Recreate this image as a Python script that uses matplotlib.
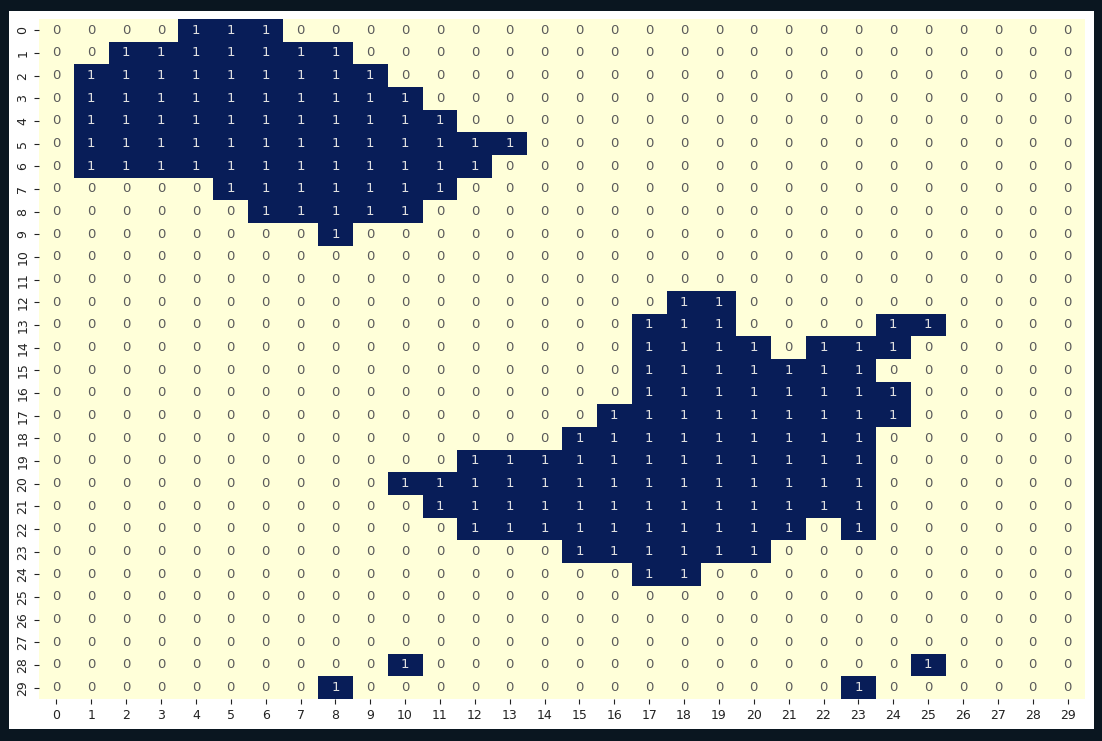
import numpy as np
import matplotlib
matplotlib.use("Agg")
import matplotlib.pyplot as plt
import seaborn as sns
from matplotlib.patches import Rectangle

# grid rows, one string per row (0 / 1 per column)
rows = [
    "000011100000000000000000000000",
    "001111111000000000000000000000",
    "011111111100000000000000000000",
    "011111111110000000000000000000",
    "011111111111000000000000000000",
    "011111111111110000000000000000",
    "011111111111100000000000000000",
    "000001111111000000000000000000",
    "000000111110000000000000000000",
    "000000001000000000000000000000",
    "000000000000000000000000000000",
    "000000000000000000000000000000",
    "000000000000000000110000000000",
    "000000000000000001110000110000",
    "000000000000000001111011100000",
    "000000000000000001111111000000",
    "000000000000000001111111100000",
    "000000000000000011111111100000",
    "000000000000000111111111000000",
    "000000000000111111111111000000",
    "000000000011111111111111000000",
    "000000000001111111111111000000",
    "000000000000111111111101000000",
    "000000000000000111111000000000",
    "000000000000000001100000000000",
    "000000000000000000000000000000",
    "000000000000000000000000000000",
    "000000000000000000000000000000",
    "000000000010000000000000010000",
    "000000001000000000000001000000",
]
grid = np.array([[int(c) for c in r] for r in rows])

fig = plt.figure(figsize=(11.02, 7.41), dpi=100, facecolor="#0a1620")
# white figure panel on the dark frame
fig.patches.append(Rectangle((9/1102, 12/741), 1085/1102, 718/741,
                             transform=fig.transFigure, facecolor="white",
                             edgecolor="none", zorder=-10))
ax = fig.add_axes([39/1102, 42/741, 1046/1102, 680/741])

sns.heatmap(grid, annot=True, fmt="d", cmap="YlGnBu", cbar=False, ax=ax,
            annot_kws={"fontsize": 9.5})
# softer annotation colours, as in the original
for t in ax.texts:
    t.set_color("#5a5a5a" if t.get_text() == "0" else "#e0e0e0")
ax.tick_params(labelsize=9, colors="#222222")
plt.setp(ax.get_yticklabels(), rotation=90, va="center")

fig.savefig("out.png", dpi=100, facecolor=fig.get_facecolor())
